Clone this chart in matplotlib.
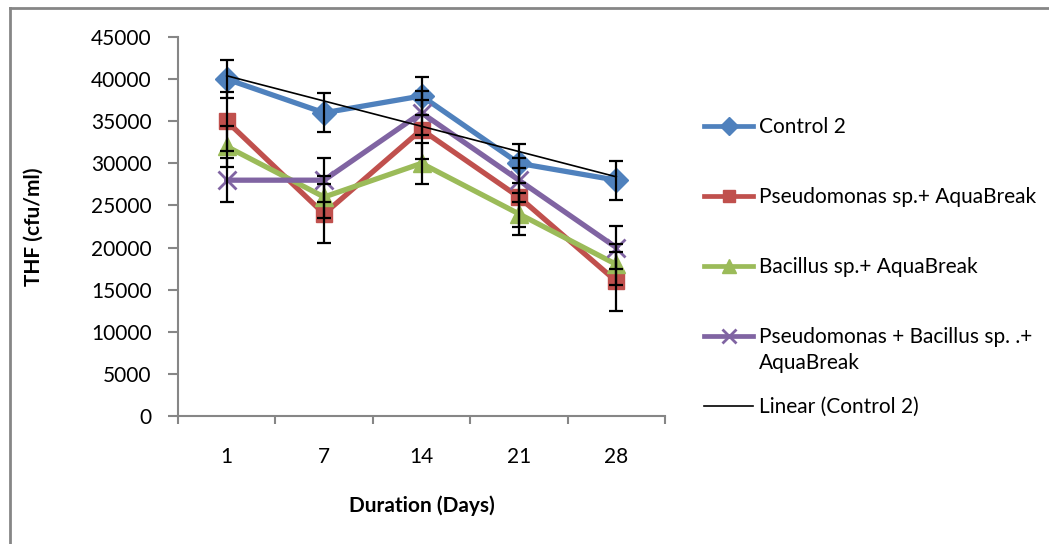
import numpy as np
import matplotlib
matplotlib.use("Agg")
import matplotlib.pyplot as plt
from matplotlib.lines import Line2D

# data
days = ["1", "7", "14", "21", "28"]
control2 = [40000, 36000, 38000, 30000, 28000]
pseudo = [35000, 24000, 34000, 26000, 16000]
bacillus = [32000, 26000, 30000, 24000, 18000]
pseudo_bac = [28000, 28000, 36000, 28000, 20000]

err_control2 = [2300, 2300, 2300, 2300, 2300]
err_pseudo = [3500, 3500, 3500, 3500, 3500]
err_bacillus = [2450, 2450, 2450, 2450, 2450]
err_pseudo_bac = [2600, 2600, 2600, 2600, 2600]

labels = ["Control 2", "Pseudomonas sp.+ AquaBreak", "Bacillus sp.+ AquaBreak",
          "Pseudomonas + Bacillus sp. .+\nAquaBreak"]
colors = ["#4F81BD", "#C0504D", "#9BBB59", "#8064A2"]
markers = ["D", "s", "^", "x"]

plt.rcParams['font.family'] = ['Lato', 'DejaVu Sans']

W, H = 1049, 544
fig = plt.figure(figsize=(W / 100, H / 100), dpi=100)
ax = fig.add_axes([178 / W, (H - 416) / H, (665 - 178) / W, (416 - 37) / H])

x = np.arange(len(days))
series = [control2, pseudo, bacillus, pseudo_bac]
errs = [err_control2, err_pseudo, err_bacillus, err_pseudo_bac]

handles = []
for i, (y, e) in enumerate(zip(series, errs)):
    ms = {"D": 12, "s": 12, "^": 13, "x": 13}[markers[i]]
    mew = 1 if markers[i] != "x" else 2
    ax.plot(x, y, color=colors[i], lw=3.8, marker=markers[i], ms=ms,
            mew=mew, mec=colors[i], zorder=3 + i * 0.1)
    ax.errorbar(x, y, yerr=e, fmt="none", ecolor="black", elinewidth=1.6,
                capsize=5, capthick=1.6, zorder=3.5 + i * 0.1)
    handles.append(dict(color=colors[i], lw=3.4, marker=markers[i],
                        ms=ms * 0.75, mew=mew, mec=colors[i]))

# linear trend of Control 2
coef = np.polyfit(x + 1, control2, 1)
trend = np.polyval(coef, x + 1)
ax.plot(x, trend, color="black", lw=1.2, zorder=5)
handles.append(dict(color="black", lw=1.2))
labels.append("Linear (Control 2)")

ax.set_xlim(-0.5, len(days) - 0.5)
ax.set_ylim(0, 45000)
ax.set_yticks(np.arange(0, 45001, 5000))
ax.set_xticks(x)
ax.set_xticklabels(days)
ax.set_xticks(np.arange(-0.5, len(days)), minor=True)
ax.tick_params(axis="x", which="major", length=0, pad=22, labelsize=15)
ax.tick_params(axis="x", which="minor", length=6, color="#868686", width=1.5)
ax.tick_params(axis="y", length=7, color="#868686", width=1.5, pad=12, labelsize=15)

for s in ["top", "right"]:
    ax.spines[s].set_visible(False)
for s in ["left", "bottom"]:
    ax.spines[s].set_color("#868686")
    ax.spines[s].set_linewidth(1.5)

ax.set_xlabel("Duration (Days)", fontsize=15, fontweight="bold", labelpad=21)
ax.set_ylabel("THF (cfu/ml)", fontsize=15, fontweight="bold", labelpad=34)

# legend laid out like Excel: equal slots, handle aligned to first text line
slot0, slot_h = 126, 70
for i, (kw, lab) in enumerate(zip(handles, labels)):
    yc = 1 - (slot0 + i * slot_h) / H
    mk = kw.pop("marker", None)
    line = Line2D([704 / W, 728.5 / W, 753 / W], [yc, yc, yc], transform=fig.transFigure,
                  marker=mk, markevery=[1], **kw)
    fig.add_artist(line)
    fig.text(759 / W, yc + 9 / H, lab, fontsize=15, va="top", ha="left", linespacing=1.4)

# chart area border
fig.add_artist(Line2D([10 / W, 10 / W], [0, 1 - 8 / H], color="#868686", lw=2))
fig.add_artist(Line2D([10 / W, 1], [1 - 8 / H, 1 - 8 / H], color="#868686", lw=2))

fig.savefig("out.png", dpi=100)
